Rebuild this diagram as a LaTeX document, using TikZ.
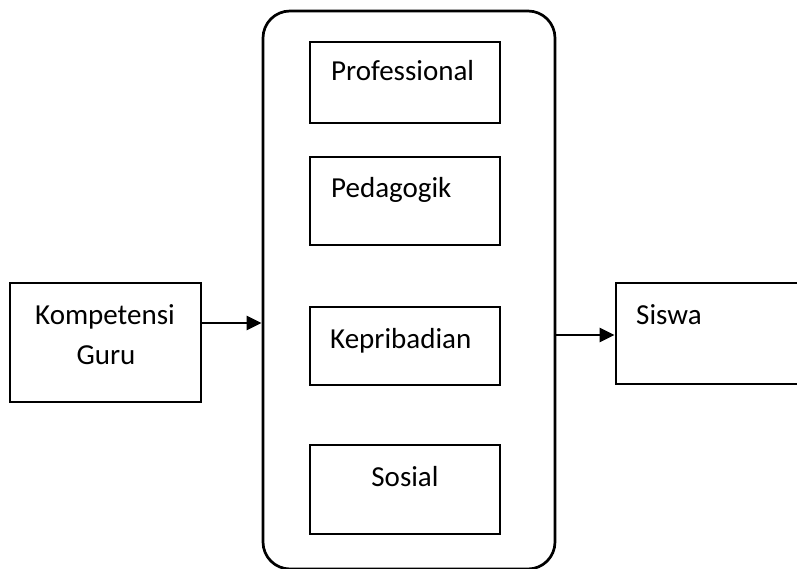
\documentclass[tikz,border=0pt]{standalone}
\usepackage{fontspec}
\setmainfont{Carlito}
\usetikzlibrary{arrows.meta}
\begin{document}
\begin{tikzpicture}[x=1pt,y=-1pt,
  box/.style={draw,line width=2.7pt,rectangle,inner sep=0pt},
  lbl/.style={inner sep=0pt,font=\fontsize{29}{34}\selectfont},
  link/.style={line width=2.7pt,-{Triangle[length=15pt,width=14pt]}}]
\useasboundingbox (0,0) rectangle (797,569);
\clip (0,0) rectangle (797,569);
% rounded frame holding the four competences
\node[box,rounded corners=27pt,minimum width=292pt,minimum height=558pt] (group) at (409,290) {};
% competence boxes
\node[box,minimum width=190pt,minimum height=81pt] (prof) at (405,82.5) {};
\node[box,minimum width=190pt,minimum height=88pt] (peda) at (405,201) {};
\node[box,minimum width=190pt,minimum height=78pt] (kepr) at (405,346) {};
\node[box,minimum width=190pt,minimum height=89pt] (sos) at (405,489.5) {};
% input and output boxes
\node[box,minimum width=191pt,minimum height=119pt] (komp) at (105.5,342.5) {};
\node[box,minimum width=204pt,minimum height=101pt] (siswa) at (718,333.5) {};
% labels
\node[lbl,anchor=base west] (tprof) at (331,81) {Professional};
\node[lbl,anchor=base west] (tpeda) at (331,198) {Pedagogik};
\node[lbl,anchor=base west] (tkepr) at (330,348) {Kepribadian};
\node[lbl,anchor=base] (tsos) at (405,486) {Sosial};
\node[lbl,anchor=base] (tkomp) at (105,324) {Kompetensi};
\node[lbl,anchor=base] (tguru) at (106,364) {Guru};
\node[lbl,anchor=base west] (tsiswa) at (636,324) {Siswa};
% connectors
\coordinate (inlet) at (263,323);
\coordinate (outlet) at (616,335);
\draw[link] (komp.east |- inlet) -- (group.west |- inlet);
\draw[link] (group.east |- outlet) -- (siswa.west |- outlet);
\end{tikzpicture}
\end{document}
